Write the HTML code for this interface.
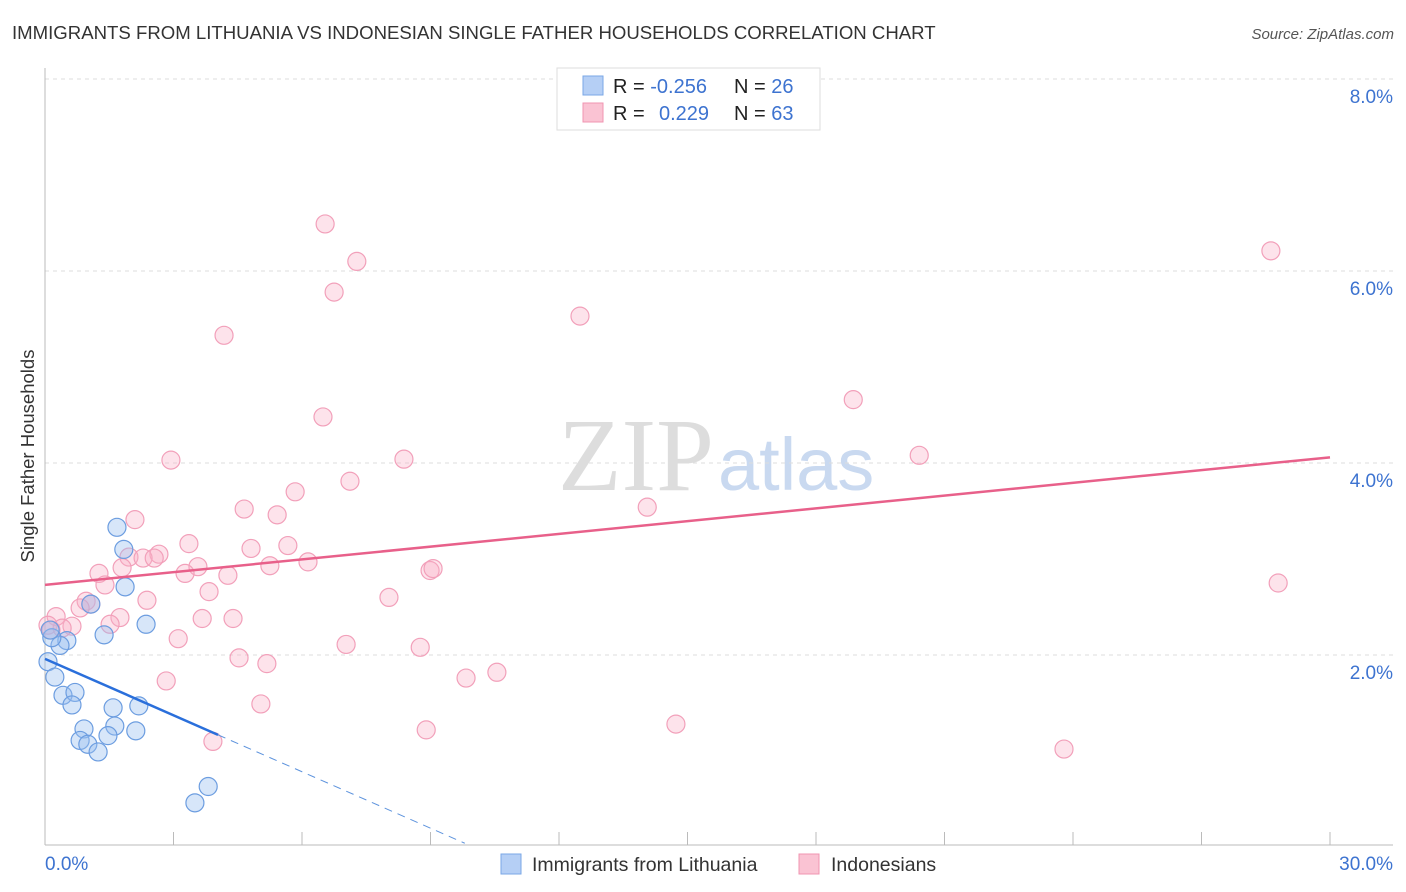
<!DOCTYPE html>
<html><head><meta charset="utf-8"><style>
body{margin:0;background:#fff;font-family:"Liberation Sans",sans-serif;}
svg{display:block}
</style></head><body>
<svg width="1406" height="892" xmlns="http://www.w3.org/2000/svg">
<text x="12" y="39" font-size="18.6" fill="#333">IMMIGRANTS FROM LITHUANIA VS INDONESIAN SINGLE FATHER HOUSEHOLDS CORRELATION CHART</text>
<text x="1394" y="39" font-size="15" fill="#555" font-style="italic" text-anchor="end">Source: ZipAtlas.com</text>
<text x="714" y="490" font-size="104" fill="#ddd" text-anchor="end" font-family="Liberation Serif,serif">ZIP</text>
<text x="718" y="490" font-size="74" fill="#c9d9f0">atlas</text>
<g id="grid"></g>
<line x1="45" y1="68" x2="45" y2="845" stroke="#bbb"/>
<line x1="45" y1="845" x2="1393" y2="845" stroke="#bbb"/>
<g id="xticks"></g>
<text x="45" y="870" font-size="19" fill="#3d73d0">0.0%</text>
<text x="1393" y="870" font-size="19" fill="#3d73d0" text-anchor="end">30.0%</text>
<text transform="translate(34,456) rotate(-90)" font-size="18.5" fill="#333" text-anchor="middle">Single Father Households</text>
<g id="pts"></g>
<g id="lines"></g>
<g>
<rect x="557" y="68" width="263" height="62" fill="#fff" stroke="#ddd"/>
<rect x="583" y="76" width="20" height="19" fill="#b5cff5" stroke="#7aa7e6"/>
<rect x="583" y="103" width="20" height="19" fill="#fac3d3" stroke="#f095b2"/>
<text x="613" y="93" font-size="20" fill="#222">R = <tspan fill="#3d73d0">-0.256</tspan></text>
<text x="734" y="93" font-size="20" fill="#222">N = <tspan fill="#3d73d0">26</tspan></text>
<text x="613" y="120" font-size="20" fill="#222">R = <tspan fill="#3d73d0" x="659">0.229</tspan></text>
<text x="734" y="120" font-size="20" fill="#222">N = <tspan fill="#3d73d0">63</tspan></text>
</g>
<rect x="501" y="854" width="20" height="20" fill="#b5cff5" stroke="#7aa7e6"/>
<text x="532" y="871" font-size="19.5" fill="#333">Immigrants from Lithuania</text>
<rect x="799" y="854" width="20" height="20" fill="#fac3d3" stroke="#f095b2"/>
<text x="831" y="871" font-size="19.5" fill="#333">Indonesians</text>
</svg>
<script>
const yTicks=[2,4,6,8];
const blueX=[1.68,1.84,1.87,1.07,2.36,1.38,0.51,0.35,0.16,0.07,0.23,0.42,0.70,0.63,1.59,2.19,0.91,1.63,2.12,0.82,1.00,1.47,1.24,3.81,3.50,0.12];
const blueY=[3.33,3.10,2.71,2.53,2.32,2.21,2.15,2.10,2.18,1.93,1.77,1.58,1.61,1.48,1.45,1.47,1.23,1.26,1.21,1.11,1.07,1.16,0.99,0.63,0.46,2.26];
const pinkX=[6.54,7.28,6.75,28.62,4.18,12.49,18.87,6.49,2.94,8.38,20.41,7.12,5.84,14.06,4.65,5.42,2.10,3.36,4.81,5.67,2.66,1.96,2.29,2.55,3.57,5.25,6.14,1.80,1.26,3.27,4.27,8.99,9.06,1.40,28.79,3.83,8.03,2.38,0.96,1.07,0.82,1.75,3.67,4.39,1.52,0.26,0.07,0.63,0.40,3.11,7.03,8.76,4.53,5.18,10.55,9.83,2.83,5.04,14.73,8.90,23.79,3.92,0.14];
const pinkY=[6.49,6.10,5.78,6.21,5.33,5.53,4.66,4.48,4.03,4.04,4.08,3.81,3.70,3.54,3.52,3.46,3.41,3.16,3.11,3.14,3.05,3.02,3.01,3.01,2.92,2.93,2.97,2.91,2.85,2.85,2.83,2.88,2.90,2.73,2.75,2.66,2.60,2.57,2.56,2.53,2.49,2.39,2.38,2.38,2.32,2.40,2.31,2.30,2.28,2.17,2.11,2.08,1.97,1.91,1.82,1.76,1.73,1.49,1.28,1.22,1.02,1.10,2.26];
const blueTrend=[1.96,-0.196];
const pinkTrend=[2.73,0.0443];
const X=v=>45+v*1285/30, Y=v=>847-v*96;
const NS="http://www.w3.org/2000/svg";
function mk(tag,attrs,parent){const e=document.createElementNS(NS,tag);for(const k in attrs)e.setAttribute(k,attrs[k]);parent.appendChild(e);return e;}
const grid=document.getElementById('grid');
yTicks.forEach(t=>{
 const l=mk('line',{x1:45,x2:1393,y1:Y(t),y2:Y(t),stroke:'#ddd','stroke-dasharray':'4,4'},grid);
 
 
 const tx=mk('text',{x:1393,y:Y(t)+24,'font-size':19,fill:'#3d73d0','text-anchor':'end'},grid);
 tx.textContent=t.toFixed(1)+'%';
 
 
});
const xt=document.getElementById('xticks');
for(let i=0;i<=10;i++){
 const l=mk('line',{x1:X(i*3),x2:X(i*3),y1:832,y2:845,stroke:'#bbb'},xt);
 
 
}
const pts=document.getElementById('pts');
pinkX.forEach((x,i)=>{
 const c=mk('circle',{cx:X(x),cy:Y(pinkY[i]),r:9,fill:'rgba(248,175,198,0.35)',stroke:'#f2a0ba','stroke-width':1.2},pts);
 
 
});
blueX.forEach((x,i)=>{
 const c=mk('circle',{cx:X(x),cy:Y(blueY[i]),r:9,fill:'rgba(150,190,240,0.38)',stroke:'#6c9de0','stroke-width':1.2},pts);
 
 
});
const lines=document.getElementById('lines');
const pl=mk('line',{x1:X(0),y1:Y(pinkTrend[0]),x2:X(30),y2:Y(pinkTrend[0]+30*pinkTrend[1]),stroke:'#e8608a','stroke-width':2.5},lines);


const bx=4.04, bEnd=9.8;
const bl=mk('line',{x1:X(0),y1:Y(blueTrend[0]),x2:X(bx),y2:Y(blueTrend[0]+bx*blueTrend[1]),stroke:'#2a6fdb','stroke-width':2.5},lines);


const bd=mk('line',{x1:X(bx),y1:Y(blueTrend[0]+bx*blueTrend[1]),x2:X(bEnd),y2:Y(blueTrend[0]+bEnd*blueTrend[1]),stroke:'#5d93dd','stroke-width':1,'stroke-dasharray':'8,6'},lines);


</script>
</body></html>
